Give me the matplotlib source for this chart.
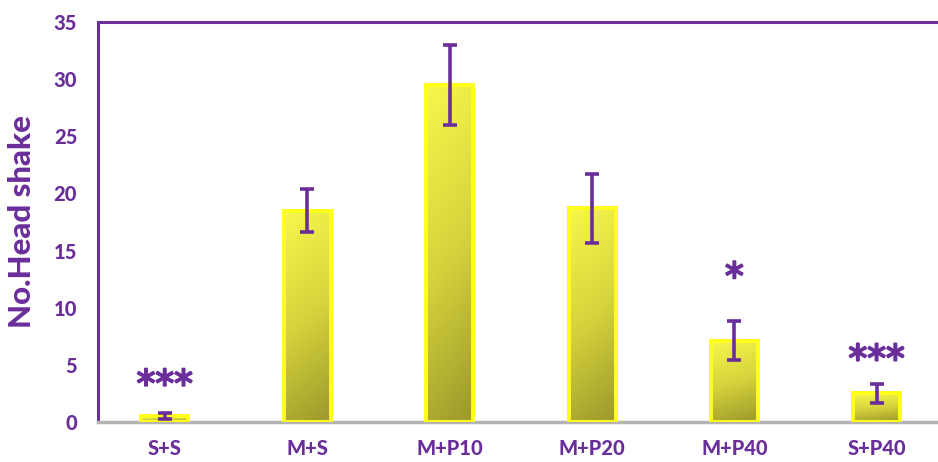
import numpy as np
import matplotlib
matplotlib.use("Agg")
import matplotlib.pyplot as plt
import matplotlib.patheffects as pe
from matplotlib.colors import LinearSegmentedColormap

groups = ["S+S", "M+S", "M+P10", "M+P20", "M+P40", "S+P40"]
means = [0.5, 18.5, 29.5, 18.7, 7.1, 2.5]
errors = [0.25, 1.9, 3.5, 3.0, 1.7, 0.8]
sig_labels = ["***", "", "", "", "*", "***"]
sig_heights = [3.9, None, None, None, 13.3, 6.1]
yticks = [0, 5, 10, 15, 20, 25, 30, 35]

purple = "#6A2E9A"
plt.rcParams["font.family"] = ["Lato", "DejaVu Sans"]

fig = plt.figure(figsize=(9.38, 4.62), dpi=100)
ax = fig.add_axes([0.1045, 0.0866, 0.8955, 0.8658])

x = np.arange(len(groups))
width = 0.33
ax.set_xlim(-0.47, 5.43)
ax.set_ylim(0, 35)

# yellow-olive gradient used to fill each bar
cmap = LinearSegmentedColormap.from_list("bar", ["#9C982C", "#D6D43C", "#F7F74C"])
gy, gx = np.mgrid[0:1:200j, 0:1:40j]
grad = np.clip(gy * 0.85 + (1 - gx) * 0.15, 0, 1)

bars = ax.bar(x, means, width=width, facecolor="none", edgecolor="#FFFF1A",
              linewidth=2.8, zorder=3)
for b in bars:
    x0, y0 = b.get_x(), b.get_y()
    w, h = b.get_width(), b.get_height()
    im = ax.imshow(grad, cmap=cmap, origin="lower", aspect="auto",
                   extent=[x0, x0 + w, y0, y0 + h], zorder=2)
    im.set_clip_path(b)

ax.errorbar(x, means, yerr=errors, fmt="none", ecolor=purple, elinewidth=2.6,
            capsize=5, capthick=2.6, zorder=4)

# significance marks; asterisks sit high in the glyph box, so shift them down
for xi, lab, hgt in zip(x, sig_labels, sig_heights):
    if lab:
        ax.annotate(lab, (xi, hgt), xytext=(0, -6.5), textcoords="offset points",
                    ha="center", va="center", color=purple, fontsize=27,
                    family="DejaVu Sans", zorder=5,
                    path_effects=[pe.withStroke(linewidth=1.4, foreground=purple)])

ax.set_xticks(x)
ax.set_xticklabels(groups)
ax.set_yticks(yticks)
ax.tick_params(axis="both", length=0, colors=purple, labelsize=14.5)
ax.tick_params(axis="x", pad=12)
ax.tick_params(axis="y", pad=15)
for lab in ax.get_xticklabels() + ax.get_yticklabels():
    lab.set_fontweight("black")

ax.set_ylabel("No.Head shake", color=purple, fontsize=22.5, fontweight="black",
              labelpad=13)

for side in ("left", "top"):
    ax.spines[side].set_color(purple)
    ax.spines[side].set_linewidth(2.2)
ax.spines["right"].set_visible(False)
ax.spines["bottom"].set_color("#B4B4B4")
ax.spines["bottom"].set_linewidth(2.5)

fig.savefig("out.png", dpi=100)
